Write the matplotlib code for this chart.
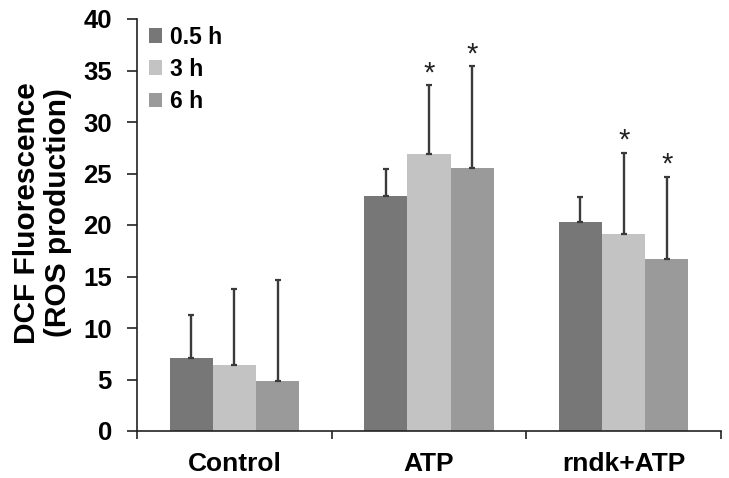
import matplotlib
matplotlib.use("Agg")
import matplotlib.pyplot as plt
from matplotlib.patches import Patch
import numpy as np

plt.rcParams['font.family'] = ['Liberation Sans', 'DejaVu Sans']
plt.rcParams['font.weight'] = 'bold'

categories = ["Control", "ATP", "rndk+ATP"]
series_names = ["0.5 h", "3 h", "6 h"]
means = {
    "0.5 h": [7.1, 22.8, 20.3],
    "3 h":   [6.4, 26.9, 19.1],
    "6 h":   [4.9, 25.5, 16.7],
}
errors = {
    "0.5 h": [4.2, 2.6, 2.4],
    "3 h":   [7.4, 6.7, 7.9],
    "6 h":   [9.8, 9.9, 8.0],
}
significant = {
    "0.5 h": [False, False, False],
    "3 h":   [False, True, True],
    "6 h":   [False, True, True],
}
colors = {"0.5 h": "#777777", "3 h": "#c3c3c3", "6 h": "#9a9a9a"}
yticks = [0, 5, 10, 15, 20, 25, 30, 35, 40]

fig = plt.figure(figsize=(7.29, 4.78), dpi=100)
ax = fig.add_axes([137/729, 47/478, (721-137)/729, (431-19)/478])

x = np.arange(len(categories))
w = 0.222
offsets = [-w, 0, w]
for s, off in zip(series_names, offsets):
    m = np.array(means[s]); e = np.array(errors[s])
    ax.bar(x + off, m, w, color=colors[s], edgecolor='none', label=s, zorder=2)
    ax.errorbar(x + off, m, yerr=[np.zeros_like(e), e], fmt='none',
                ecolor='#3a3a3a', elinewidth=1.7, capsize=2.5, capthick=1.6, zorder=3)
    for xi, mi, ei, sig in zip(x + off, m, e, significant[s]):
        if sig:
            ax.text(xi, mi + ei + 1.15, "*", ha='center', va='center',
                    fontsize=21, fontweight='normal', color='#222222')

ax.set_xlim(-0.5, 2.5)
ax.set_ylim(0, 40)
ax.spines['top'].set_visible(False)
ax.spines['right'].set_visible(False)
for sp in ['left', 'bottom']:
    ax.spines[sp].set_linewidth(1.2)
    ax.spines[sp].set_color('#222222')

ax.set_yticks(yticks)
ax.set_yticklabels([str(t) for t in yticks], fontsize=18.5, fontweight='bold')
ax.tick_params(axis='y', length=7, width=1.2, pad=11, color='#222222')

ax.set_xticks([-0.5, 0.5, 1.5, 2.5])
ax.set_xticklabels([])
ax.tick_params(axis='x', which='major', length=6, width=1.2, direction='out', color='#222222')
ax.set_xticks(x, minor=True)
ax.set_xticklabels(categories, minor=True, fontsize=19, fontweight='bold')
ax.tick_params(axis='x', which='minor', length=0, pad=15)

ax.set_ylabel("DCF Fluorescence\n(ROS production)", fontsize=21.5, fontweight='bold',
              linespacing=1.1)
ax.yaxis.set_label_coords(-0.112, 0.53)

handles = [Patch(facecolor=colors[s], edgecolor='none', label=s) for s in series_names]
leg = ax.legend(handles=handles, loc='upper left', bbox_to_anchor=(0.013, 0.995),
                frameon=False, fontsize=16.5, handlelength=0.55, handleheight=0.6,
                handletextpad=0.35, labelspacing=0.4, borderaxespad=0, borderpad=0.2)
for t in leg.get_texts():
    t.set_fontweight('bold')

fig.savefig("out.png", dpi=100)
